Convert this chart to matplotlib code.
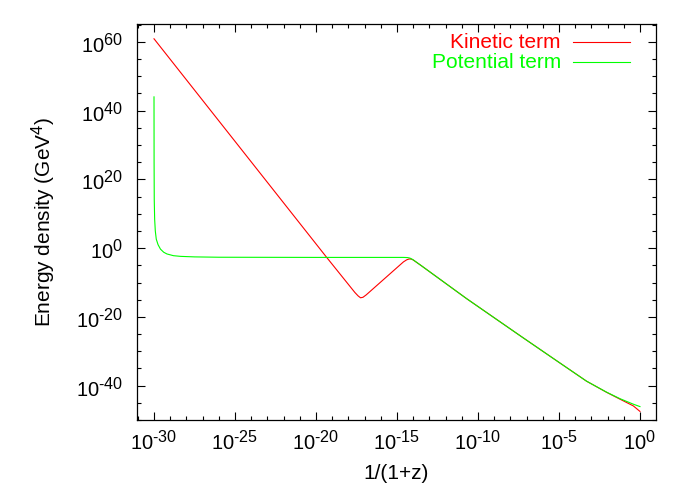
import numpy as np
import matplotlib
matplotlib.use("Agg")
import matplotlib.pyplot as plt
import matplotlib._mathtext as _mt
from matplotlib.ticker import FixedLocator, FuncFormatter

# ---- data (log10 of scale factor, log10 of energy density) ----
kin_logx = [-30.0, -19.34, -17.6, -17.4, -17.25, -17.1, -16.9, -14.6, -14.4, -14.25,
            -14.1, -14.0, -13.5, -10.7, -7.3, -5.35, -3.3, -2.06, -1.23, -0.41, 0.0]
kin_logy = [60.9, -2.7, -12.9, -13.9, -14.45, -14.3, -13.6, -4.0, -3.4, -3.15,
            -3.2, -3.45, -5.1, -14.7, -25.8, -32.1, -38.7, -41.95, -43.95, -45.9, -47.5]

pot_logx = [-30.0, -29.995, -29.985, -29.96, -29.92, -29.86, -29.75, -29.6, -29.4,
            -29.2, -28.8, -28.35, -27.5, -26.0, -20.0, -14.6, -14.35, -14.2, -14.0,
            -13.5, -10.7, -7.3, -5.35, -3.3, -2.06, -1.23, -0.41, 0.0]
pot_logy = [44.0, 25.0, 14.0, 8.4, 5.0, 2.6, 1.0, -0.3, -1.2,
            -1.7, -2.2, -2.4, -2.55, -2.65, -2.7, -2.7, -2.75, -2.9, -3.4,
            -5.1, -14.7, -25.8, -32.1, -38.7, -41.9, -43.8, -45.4, -46.1]

series_labels = ["Kinetic term", "Potential term"]
x_major_exps = [-30, -25, -20, -15, -10, -5, 0]
y_major_exps = [-40, -20, 0, 20, 40, 60]

plt.rcParams['font.family'] = ['Liberation Sans', 'DejaVu Sans']
plt.rcParams['mathtext.fontset'] = 'custom'
plt.rcParams['mathtext.rm'] = 'Liberation Sans'
plt.rcParams['mathtext.it'] = 'Liberation Sans'
try:
    _mt.SHRINK_FACTOR = 0.8
except Exception:
    pass

fig = plt.figure(figsize=(6.92, 4.85), dpi=100)
ax = fig.add_axes([137/692, 1 - 421/485, (656 - 137)/692, (421 - 25)/485])

kx = 10.0 ** np.array(kin_logx)
ky = 10.0 ** np.array(kin_logy)
px = 10.0 ** np.array(pot_logx)
py = 10.0 ** np.array(pot_logy)

red = '#ff0000'
green = '#00ff00'
ax.plot(kx, ky, color=red, lw=0.8)
ax.plot(px, py, color=green, lw=0.8)

ax.set_xscale('log')
ax.set_yscale('log')
ax.set_xlim(10**-31.05, 10**0.99)
ax.set_ylim(10**-50, 10**65.2)

ax.xaxis.set_major_locator(FixedLocator([10.0**e for e in x_major_exps]))
ax.xaxis.set_minor_locator(FixedLocator([10.0**e for e in range(-31, 1)]))
ax.yaxis.set_major_locator(FixedLocator([10.0**e for e in y_major_exps]))
ax.yaxis.set_minor_locator(FixedLocator([10.0**e for e in range(-50, 66, 5)]))

def _fmt(v, p):
    e = int(round(np.log10(v)))
    return r'$10^{\text{%d}}$' % e

fmt = FuncFormatter(_fmt)
ax.xaxis.set_major_formatter(fmt)
ax.yaxis.set_major_formatter(fmt)
ax.xaxis.set_minor_formatter(FuncFormatter(lambda v, p: ''))
ax.yaxis.set_minor_formatter(FuncFormatter(lambda v, p: ''))

ax.tick_params(which='both', direction='in', top=True, right=True, labelsize=14.5)
ax.tick_params(which='major', length=6, width=0.8)
ax.tick_params(which='minor', length=3, width=0.8)
ax.tick_params(axis='x', which='major', pad=6)
ax.tick_params(axis='y', which='major', pad=10)
for s in ax.spines.values():
    s.set_linewidth(0.9)

ax.set_xlabel('1/(1+z)', fontsize=15)
ax.set_ylabel(r'Energy density (GeV$^4$)', fontsize=15)
ax.xaxis.set_label_coords(0.5, -(464 - 421) / 396)
ax.yaxis.set_label_coords((58 - 137) / 519, (421 - 221.5) / 396)

# legend (gnuplot style: right-aligned text, sample line to the right)
def ax_coords(xp, yp):
    return (xp - 137) / 519, (421 - yp) / 396

for lab, col, yp in [(series_labels[0], red, 42.5), (series_labels[1], green, 63.0)]:
    tx, ty = ax_coords(561, yp)
    ax.text(tx, ty, lab, color=col, fontsize=15, ha='right', va='center',
            transform=ax.transAxes)
    x0, y0 = ax_coords(573, yp)
    x1, _ = ax_coords(630, yp)
    ax.plot([x0, x1], [y0, y0], color=col, lw=0.8, transform=ax.transAxes)

fig.savefig('out.png', dpi=100)
